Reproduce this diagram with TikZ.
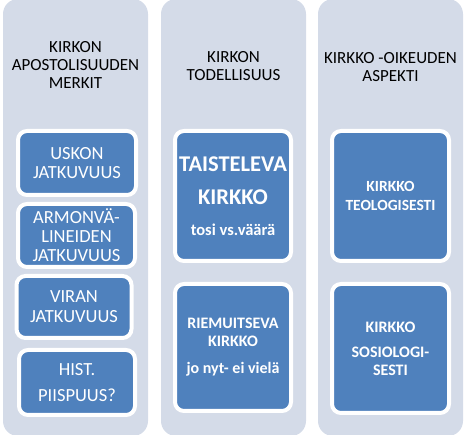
\documentclass[tikz,border=0pt]{standalone}
\usepackage{fontspec}
\setmainfont{Carlito}
\usepackage{xcolor}
\definecolor{colgray}{RGB}{212,219,232}
\definecolor{boxblue}{RGB}{79,129,189}

\begin{document}
\begin{tikzpicture}[x=1pt,y=-1pt,
    colbg/.style={fill=colgray, rounded corners=15pt, minimum width=145pt, minimum height=437pt, inner sep=0pt},
    head/.style={align=center, font=\fontsize{17}{17.6}\selectfont},
    item/.style={fill=boxblue, draw=white, line width=4pt, rounded corners=9pt, text=white, align=center, inner sep=0pt}]
    \useasboundingbox (0,0) rectangle (467,435);

    % Column backgrounds
    \foreach \x/\n in {75.5/1,233.5/2,390.5/3} {
        \node[colbg] (col\n) at (\x,217.5) {};
    }

    % Column headers
    \node[head] (head1) at (75.5,65) {KIRKON\\APOSTOLISUUDEN\\MERKIT};
    \node[head] (head2) at (233.5,66) {KIRKON\\TODELLISUUS};
    \node[head] (head3) at (390.5,67) {KIRKKO -OIKEUDEN\\ASPEKTI};

    % First column
    \node[item, minimum width=118pt, minimum height=64pt, font=\fontsize{18.5}{19.8}\selectfont] (uskon) at (77,163) {USKON\\JATKUVUUS};
    \node[item, minimum width=117pt, minimum height=63pt, font=\fontsize{18.5}{19}\selectfont] (armon) at (76.5,235.5) {ARMONVÄ-\\LINEIDEN\\JATKUVUUS};
    \node[item, minimum width=115pt, minimum height=62pt, font=\fontsize{18.5}{19.8}\selectfont] (viran) at (74,307) {VIRAN\\JATKUVUUS};
    \node[item, minimum width=116pt, minimum height=65pt, font=\fontsize{18.5}{19.8}\selectfont] (hist) at (77,382.5) {HIST.\\[7pt]PIISPUUS?};

    % Second column
    \node[item, minimum width=116pt, minimum height=130pt, font=\bfseries\fontsize{22.5}{33}\selectfont] (taist) at (233,196)
        {TAISTELEVA\\KIRKKO\\[-2pt]{\fontsize{16.5}{18}\selectfont tosi vs.väärä}};
    \node[item, minimum width=116pt, minimum height=127pt, font=\bfseries\fontsize{16}{18}\selectfont] (riemu) at (233,347.5)
        {RIEMUITSEVA\\KIRKKO\\[9pt]jo nyt- ei vielä};

    % Third column
    \node[item, minimum width=117pt, minimum height=130pt, font=\bfseries\fontsize{15.5}{19}\selectfont] (teol) at (390.5,196) {KIRKKO\\TEOLOGISESTI};
    \node[item, minimum width=117pt, minimum height=129pt, font=\bfseries\fontsize{16}{18}\selectfont] (sosio) at (390.5,348.5) {KIRKKO\\[7pt]SOSIOLOGI-\\SESTI};
\end{tikzpicture}
\end{document}
